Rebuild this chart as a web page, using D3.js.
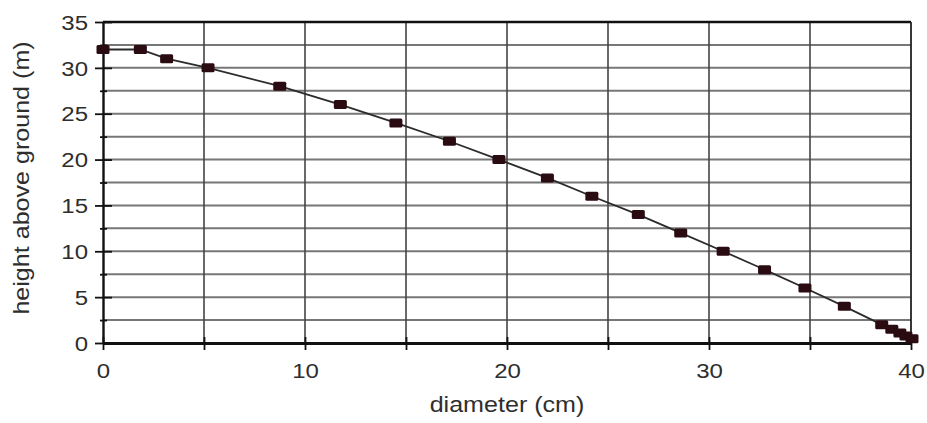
<!DOCTYPE html>
<html>
<head>
<meta charset="utf-8">
<script src="https://cdn.jsdelivr.net/npm/d3@7"></script>
<style>
  html, body { margin: 0; padding: 0; background: #fff; }
  svg { display: block; }
  text { font-family: "Liberation Sans", Arial, Helvetica, sans-serif; fill: #2e2e2e; }
</style>
</head>
<body>
<svg id="chart" width="927" height="423"></svg>
<script>
// ---- data ----
const diameter = [0, 1.85, 3.15, 5.2, 8.75, 11.75, 14.5, 17.15, 19.6, 22.0, 24.2, 26.5, 28.6, 30.7, 32.75, 34.75, 36.7, 38.55, 39.05, 39.45, 39.75, 40.05];
const height   = [32, 32, 31, 30, 28, 26, 24, 22, 20, 18, 16, 14, 12, 10, 8, 6, 4, 2, 1.5, 1.1, 0.75, 0.45];
const xTickLabels = [0, 10, 20, 30, 40];
const xTicks = [0, 5, 10, 15, 20, 25, 30, 35, 40];
const yTickLabels = [0, 5, 10, 15, 20, 25, 30, 35];
const yMinorTicks = [2.5, 7.5, 12.5, 17.5, 22.5, 27.5, 32.5];
const xTitle = "diameter (cm)";
const yTitle = "height above ground (m)";

const points = diameter.map((d, i) => ({ d: d, h: height[i] }));

const svg = d3.select("#chart");
const x = d3.scaleLinear().domain([0, 40]).range([103, 911]);
const y = d3.scaleLinear().domain([0, 35]).range([343, 22]);

// horizontal grid (every 2.5)
const hGrid = d3.range(1, 14).map(i => i * 2.5);
svg.append("g").selectAll("line").data(hGrid).join("line")
  .attr("x1", x(0)).attr("x2", x(40))
  .attr("y1", d => y(d)).attr("y2", d => y(d))
  .attr("stroke", "#777").attr("stroke-width", 2);

// vertical grid
svg.append("g").selectAll("line").data(xTicks.filter(v => v > 0 && v < 40)).join("line")
  .attr("x1", d => x(d)).attr("x2", d => x(d))
  .attr("y1", y(0)).attr("y2", y(35))
  .attr("stroke", "#444").attr("stroke-width", 1.6);

// frame top & right
svg.append("line").attr("x1", x(0)).attr("x2", x(40)).attr("y1", y(35)).attr("y2", y(35))
  .attr("stroke", "#111").attr("stroke-width", 2.4);
svg.append("line").attr("x1", x(40)).attr("x2", x(40)).attr("y1", y(0)).attr("y2", y(35))
  .attr("stroke", "#222").attr("stroke-width", 1.8);

// y axis major
const yAxis = svg.append("g").attr("transform", `translate(${x(0)},0)`)
  .call(d3.axisLeft(y).tickValues(yTickLabels).tickSize(8).tickSizeOuter(0).tickFormat(d3.format("d")));
yAxis.select(".domain").attr("stroke", "#111").attr("stroke-width", 2.4);
yAxis.selectAll(".tick line").attr("x1", 9).attr("stroke", "#111").attr("stroke-width", 1.8);
yAxis.selectAll(".tick text").attr("x", -15).attr("dy", "0.36em").style("font-size", "20px")
  .attr("font-family", null);

// y axis minor
const yMinor = svg.append("g").attr("transform", `translate(${x(0)},0)`)
  .call(d3.axisLeft(y).tickValues(yMinorTicks).tickSize(3).tickSizeOuter(0).tickFormat(""));
yMinor.select(".domain").remove();
yMinor.selectAll(".tick line").attr("x1", 4).attr("stroke", "#111").attr("stroke-width", 1.8);

// x axis
const xAxis = svg.append("g").attr("transform", `translate(0,${y(0)})`)
  .call(d3.axisBottom(x).tickValues(xTicks).tickSize(7).tickSizeOuter(0)
    .tickFormat(d => xTickLabels.includes(d) ? d : ""));
xAxis.select(".domain").attr("stroke", "#111").attr("stroke-width", 2.8);
xAxis.selectAll(".tick line").attr("y1", -6).attr("stroke", "#111").attr("stroke-width", 1.8);
xAxis.selectAll(".tick text").attr("y", 35).attr("dy", 0).style("font-size", "20px");

// line
svg.append("path").datum(points)
  .attr("fill", "none").attr("stroke", "#2b2b2b").attr("stroke-width", 1.8)
  .attr("d", d3.line().x(p => x(p.d)).y(p => y(p.h)));

// markers
svg.append("g").selectAll("rect").data(points).join("rect")
  .attr("x", p => x(p.d) - 6.5).attr("y", p => y(p.h) - 4.5)
  .attr("width", 13).attr("height", 9).attr("rx", 1.5)
  .attr("fill", "#2a0b12");

// titles
svg.append("text").attr("class", "title")
  .attr("x", 507).attr("y", 412).attr("text-anchor", "middle")
  .style("font-size", "22px").text(xTitle);
svg.append("text").attr("class", "title")
  .attr("transform", "translate(29,178) rotate(-90)").attr("text-anchor", "middle")
  .style("font-size", "22px").text(yTitle);

// horizontal stretch of text to match reference glyph proportions
svg.selectAll("text").each(function() {
  const t = d3.select(this);
  if (!t.text()) return;
  const isTitle = t.classed("title");
  const len = this.getComputedTextLength();
  t.attr("textLength", len * (isTitle ? 1.14 : 1.2)).attr("lengthAdjust", "spacingAndGlyphs");
});
</script>
</body>
</html>
